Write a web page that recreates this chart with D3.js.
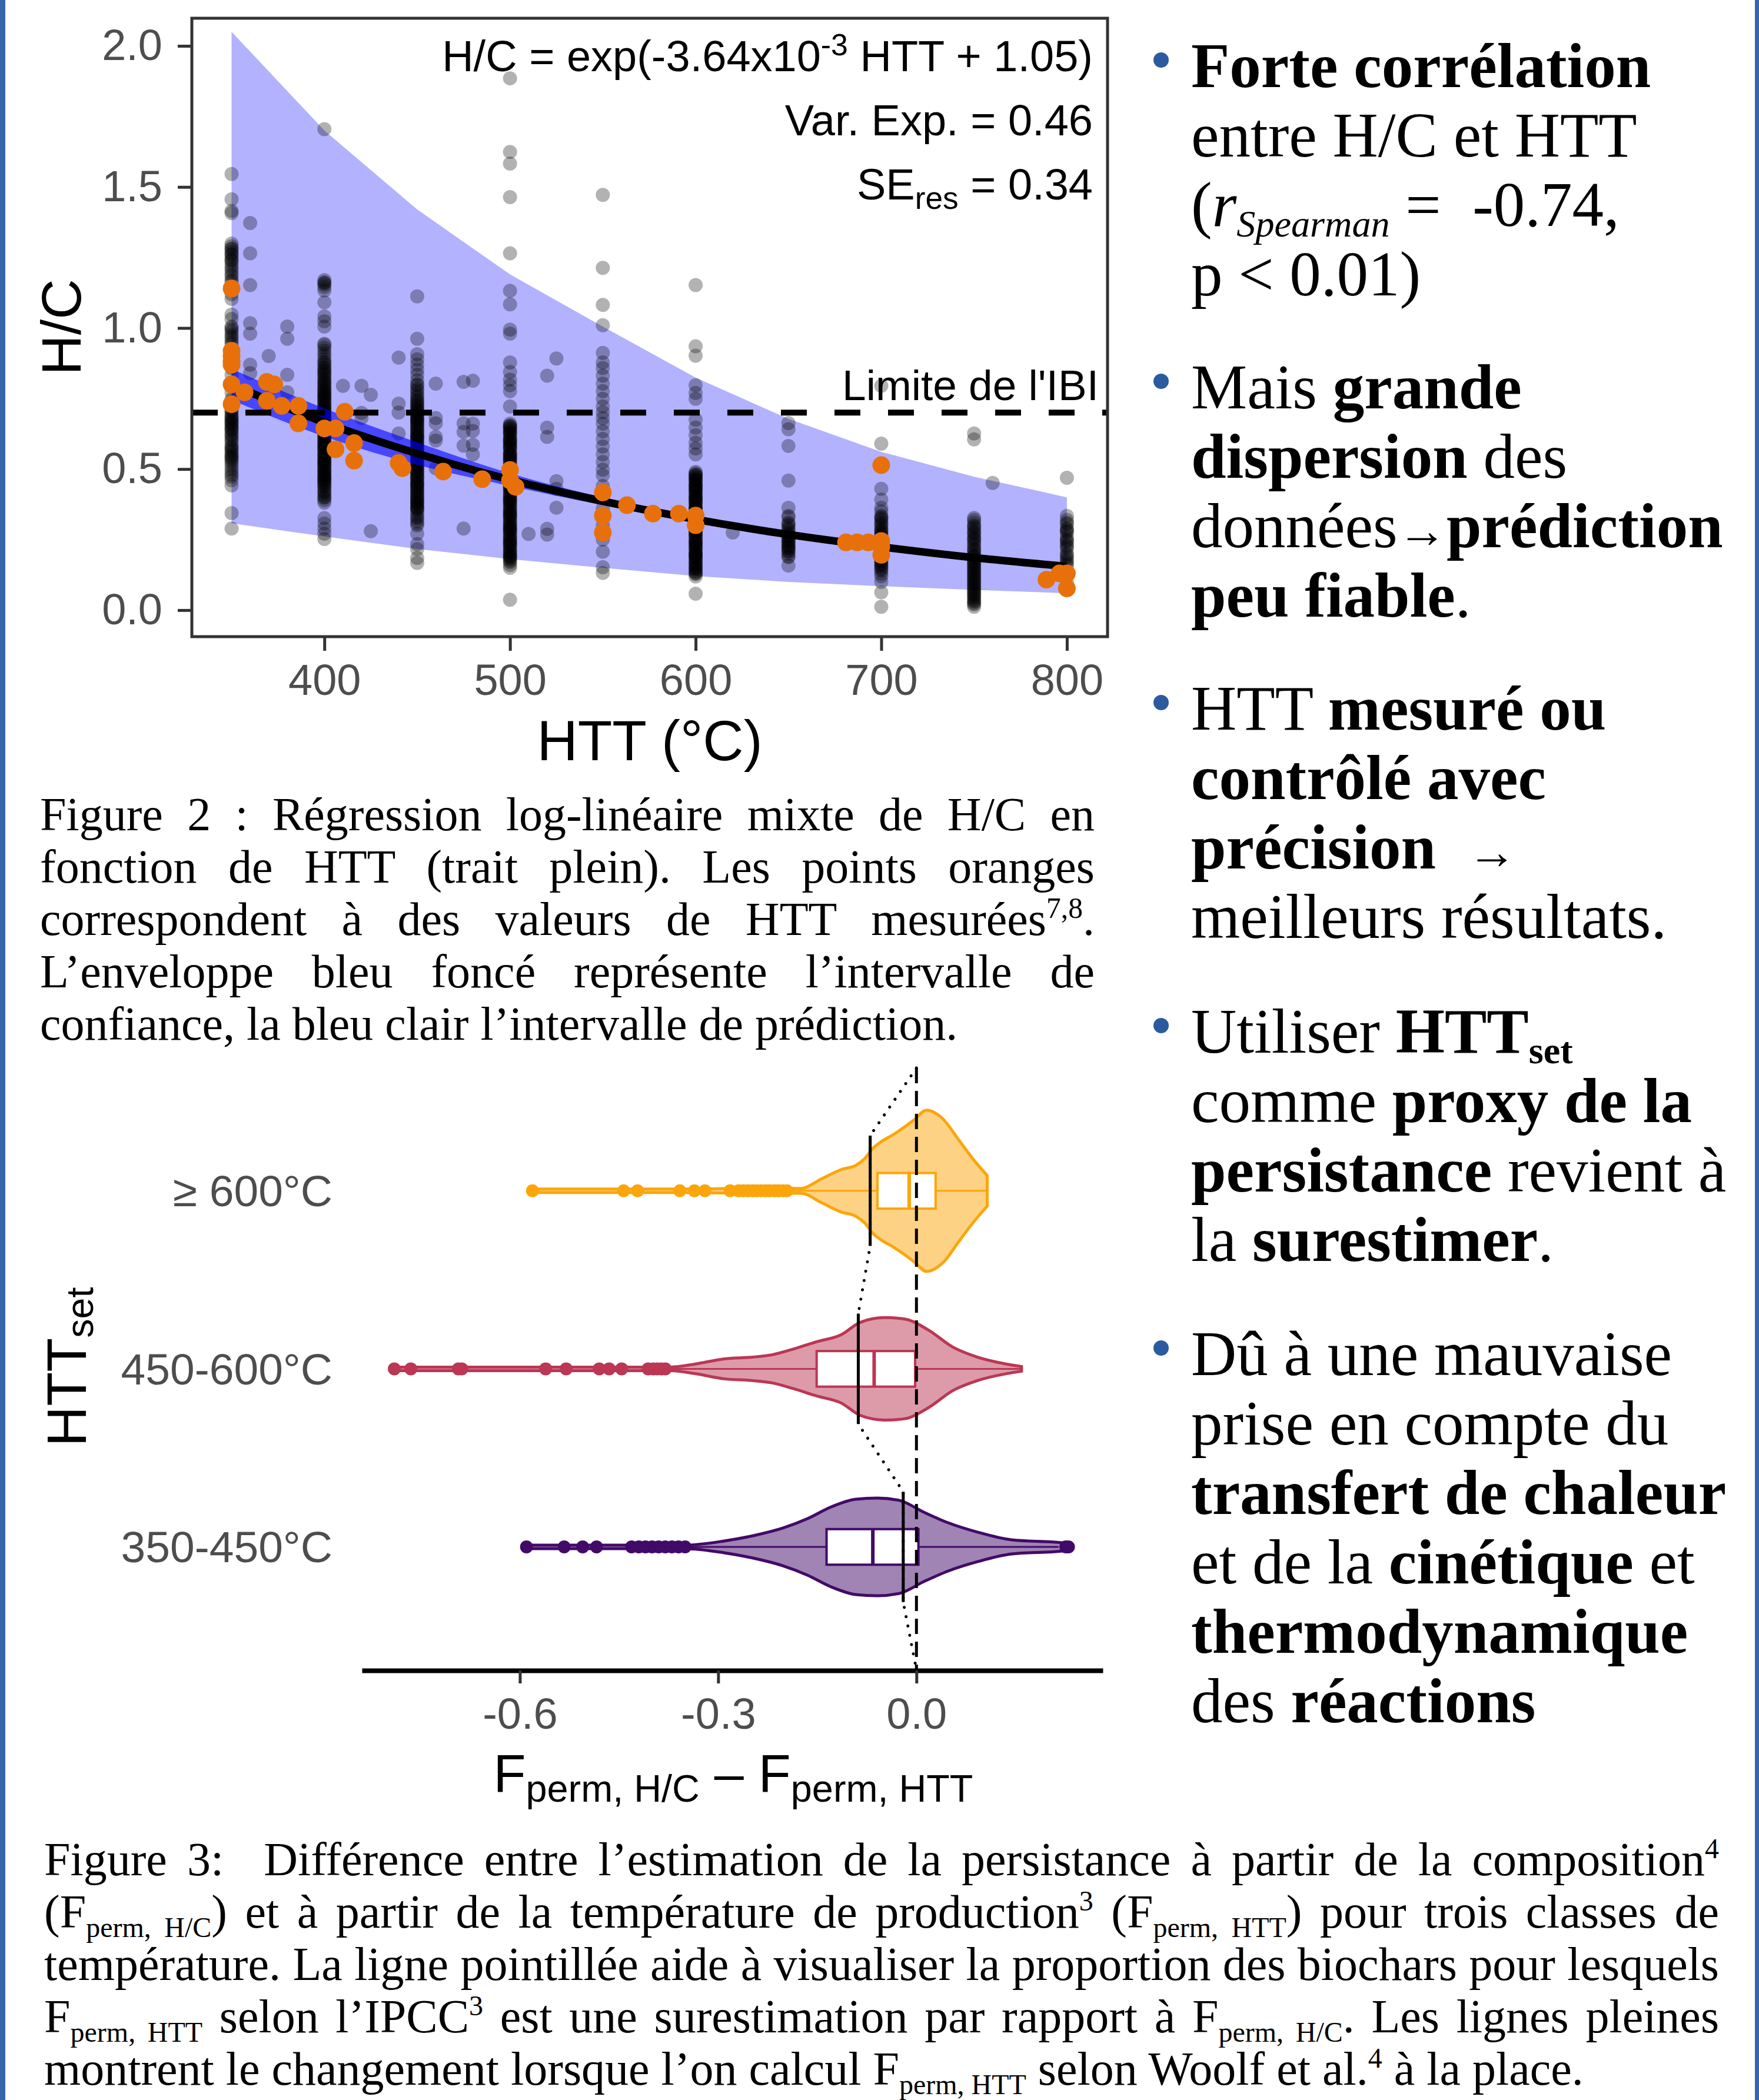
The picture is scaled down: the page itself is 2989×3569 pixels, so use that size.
<!DOCTYPE html>
<html>
<head>
<meta charset="utf-8">
<script src="https://cdn.jsdelivr.net/npm/d3@7"></script>
<style>
  body { margin: 0; background: #fff; }
</style>
</head>
<body>
<div id="chart"></div>
<script>
// ---------- Figure 2 data : H/C vs HTT ----------
var fitHTT = [350, 400, 450, 500, 550, 600, 650, 700, 750, 800];
var fitHC  = [0.80, 0.665, 0.555, 0.462, 0.386, 0.322, 0.268, 0.224, 0.186, 0.155];
var ciLow  = [0.745, 0.615, 0.515, 0.44, 0.372, 0.31, 0.26, 0.215, 0.178, 0.146];
var ciHigh = [0.855, 0.715, 0.595, 0.485, 0.40, 0.334, 0.277, 0.233, 0.195, 0.166];
var piLow  = [0.308, 0.261, 0.217, 0.181, 0.150, 0.121, 0.10, 0.085, 0.072, 0.06];
var piHigh = [2.05, 1.70, 1.42, 1.19, 1.005, 0.824, 0.678, 0.561, 0.473, 0.40];

var colHTT = [350, 360, 370, 380, 400, 410, 420, 425, 440, 450, 460, 475, 480, 500, 510, 520, 525, 550, 600, 620, 650, 700, 750, 760, 800];
var colHC = [
  [1.546, 1.456, 1.415, 1.407, 1.299, 1.29, 1.281, 1.27, 1.262, 1.25, 1.241, 1.23, 1.219, 1.201, 1.183, 1.164, 1.12, 1.103, 1.048, 1.032, 1.005, 0.993, 0.968, 0.96, 0.95, 0.944, 0.92, 0.90, 0.88, 0.858, 0.834, 0.80, 0.772, 0.748, 0.72, 0.71, 0.699, 0.69, 0.681, 0.675, 0.67, 0.662, 0.655, 0.65, 0.644, 0.635, 0.626, 0.615, 0.601, 0.59, 0.577, 0.565, 0.558, 0.546, 0.54, 0.528, 0.51, 0.49, 0.473, 0.442, 0.344, 0.289],
  [1.372, 1.265, 1.152, 1.017, 0.980, 0.870, 0.840],
  [0.901],
  [1.005, 0.962, 0.834, 0.772],
  [1.705, 1.170, 1.162, 1.16, 1.154, 1.145, 1.133, 1.091, 1.041, 1.024, 1.005, 0.944, 0.920, 0.901, 0.88, 0.877, 0.858, 0.850, 0.840, 0.83, 0.822, 0.812, 0.803, 0.795, 0.79, 0.785, 0.775, 0.767, 0.76, 0.758, 0.748, 0.740, 0.735, 0.730, 0.721, 0.715, 0.712, 0.702, 0.695, 0.693, 0.684, 0.68, 0.675, 0.666, 0.66, 0.657, 0.648, 0.645, 0.638, 0.629, 0.625, 0.620, 0.611, 0.605, 0.601, 0.592, 0.588, 0.583, 0.574, 0.57, 0.565, 0.555, 0.55, 0.546, 0.537, 0.532, 0.528, 0.519, 0.515, 0.510, 0.50, 0.495, 0.491, 0.482, 0.478, 0.473, 0.464, 0.46, 0.454, 0.445, 0.44, 0.436, 0.427, 0.42, 0.417, 0.408, 0.40, 0.399, 0.39, 0.381, 0.326, 0.307, 0.289, 0.271, 0.252],
  [0.795],
  [0.795, 0.699, 0.681],
  [0.763, 0.280],
  [0.895, 0.732, 0.700, 0.626],
  [1.112, 0.962, 0.907, 0.889, 0.870, 0.852, 0.834, 0.815, 0.797, 0.779, 0.760, 0.742, 0.735, 0.73, 0.724, 0.712, 0.705, 0.70, 0.695, 0.687, 0.68, 0.675, 0.669, 0.66, 0.655, 0.650, 0.64, 0.635, 0.632, 0.62, 0.614, 0.61, 0.605, 0.595, 0.59, 0.585, 0.577, 0.57, 0.565, 0.558, 0.55, 0.548, 0.540, 0.535, 0.53, 0.522, 0.515, 0.51, 0.503, 0.495, 0.49, 0.485, 0.475, 0.47, 0.466, 0.455, 0.45, 0.448, 0.44, 0.430, 0.425, 0.42, 0.411, 0.405, 0.40, 0.393, 0.385, 0.38, 0.375, 0.365, 0.36, 0.357, 0.326, 0.307, 0.271, 0.234, 0.216, 0.185, 0.167],
  [0.803, 0.681, 0.662, 0.614, 0.601, 0.503],
  [0.809, 0.662, 0.632, 0.583, 0.289],
  [0.813, 0.661, 0.635, 0.586, 0.552],
  [1.885, 1.624, 1.583, 1.464, 1.265, 1.132, 1.084, 0.994, 0.980, 0.878, 0.844, 0.817, 0.797, 0.776, 0.722, 0.661, 0.655, 0.652, 0.645, 0.636, 0.63, 0.628, 0.618, 0.61, 0.605, 0.602, 0.595, 0.586, 0.58, 0.578, 0.569, 0.56, 0.555, 0.552, 0.545, 0.537, 0.535, 0.53, 0.521, 0.512, 0.51, 0.503, 0.495, 0.488, 0.485, 0.48, 0.471, 0.462, 0.46, 0.453, 0.445, 0.438, 0.435, 0.43, 0.421, 0.412, 0.41, 0.403, 0.395, 0.388, 0.385, 0.38, 0.371, 0.362, 0.36, 0.353, 0.345, 0.338, 0.335, 0.33, 0.321, 0.312, 0.31, 0.303, 0.295, 0.287, 0.285, 0.28, 0.27, 0.262, 0.26, 0.253, 0.245, 0.237, 0.235, 0.23, 0.22, 0.212, 0.21, 0.203, 0.195, 0.19, 0.185, 0.18, 0.17, 0.16, 0.037],
  [0.270],
  [0.831, 0.647, 0.614, 0.288, 0.268],
  [0.892, 0.457, 0.430, 0.363],
  [1.472, 1.213, 1.082, 1.010, 0.912, 0.878, 0.858, 0.831, 0.803, 0.776, 0.749, 0.722, 0.701, 0.681, 0.661, 0.634, 0.607, 0.580, 0.552, 0.525, 0.498, 0.478, 0.44, 0.40, 0.36, 0.30, 0.25, 0.207, 0.152, 0.132],
  [1.152, 0.935, 0.902, 0.797, 0.770, 0.749, 0.675, 0.647, 0.620, 0.593, 0.573, 0.552, 0.485, 0.48, 0.478, 0.47, 0.462, 0.46, 0.455, 0.447, 0.44, 0.44, 0.431, 0.423, 0.42, 0.415, 0.407, 0.40, 0.398, 0.39, 0.382, 0.38, 0.373, 0.365, 0.36, 0.357, 0.348, 0.34, 0.34, 0.332, 0.323, 0.32, 0.315, 0.306, 0.30, 0.298, 0.29, 0.281, 0.28, 0.273, 0.265, 0.26, 0.256, 0.248, 0.24, 0.24, 0.231, 0.222, 0.22, 0.214, 0.205, 0.20, 0.197, 0.188, 0.185, 0.18, 0.172, 0.165, 0.163, 0.155, 0.15, 0.146, 0.137, 0.135, 0.128, 0.119, 0.058],
  [0.275],
  [0.663, 0.641, 0.582, 0.459, 0.363, 0.334, 0.305, 0.30, 0.29, 0.275, 0.27, 0.264, 0.254, 0.25, 0.242, 0.235, 0.231, 0.22, 0.22, 0.209, 0.20, 0.188, 0.158],
  [0.795, 0.590, 0.430, 0.392, 0.363, 0.334, 0.33, 0.32, 0.31, 0.305, 0.29, 0.28, 0.275, 0.265, 0.26, 0.25, 0.245, 0.235, 0.23, 0.22, 0.217, 0.205, 0.2, 0.19, 0.188, 0.175, 0.172, 0.16, 0.158, 0.145, 0.14, 0.129, 0.12, 0.100, 0.063, 0.012],
  [0.626, 0.605, 0.327, 0.310, 0.30, 0.290, 0.28, 0.275, 0.261, 0.25, 0.245, 0.231, 0.22, 0.215, 0.202, 0.195, 0.188, 0.18, 0.173, 0.165, 0.16, 0.15, 0.144, 0.135, 0.13, 0.12, 0.115, 0.105, 0.10, 0.09, 0.085, 0.075, 0.07, 0.06, 0.056, 0.045, 0.034, 0.03, 0.02, 0.012],
  [0.451],
  [0.469, 0.334, 0.32, 0.305, 0.290, 0.28, 0.275, 0.26, 0.246, 0.24, 0.23, 0.217, 0.2, 0.188, 0.172, 0.165, 0.158, 0.13, 0.10]
];
// further overlapping observations in the crowded columns
var denseHTT = [350, 400, 450, 500, 600, 650, 700, 750, 800];
var denseHC = [
  [0.74, 0.73, 0.705, 0.685, 0.665, 0.64, 0.62, 0.605, 0.58, 0.57, 0.55, 0.535, 0.52, 0.50, 0.48, 0.46, 1.28, 1.26, 1.24, 1.21, 1.19, 1.17, 1.00, 0.985, 0.975],
  [0.94, 0.93, 0.91, 0.89, 0.87, 0.86, 0.845, 0.835, 0.815, 0.805, 0.78, 0.77, 0.755, 0.745, 0.725, 0.71, 0.70, 0.685, 0.67, 0.655, 0.64, 0.63, 0.615, 0.60, 0.585, 0.575, 0.56, 0.545, 0.53, 0.52, 0.505, 0.49, 0.475, 0.465, 0.45],
  [0.80, 0.785, 0.77, 0.755, 0.745, 0.72, 0.71, 0.69, 0.675, 0.665, 0.645, 0.625, 0.615, 0.60, 0.58, 0.56, 0.545, 0.525, 0.51, 0.495, 0.48, 0.465, 0.445, 0.435, 0.415, 0.395, 0.38, 0.365, 0.35, 0.34, 0.33, 0.315, 0.30],
  [0.65, 0.625, 0.60, 0.575, 0.55, 0.525, 0.50, 0.475, 0.45, 0.425, 0.40, 0.375, 0.35, 0.325, 0.30, 0.275, 0.25, 0.225, 0.20, 0.175, 0.15, 0.64, 0.59, 0.54, 0.49, 0.44, 0.39, 0.34, 0.29, 0.24, 0.19],
  [0.49, 0.465, 0.445, 0.425, 0.405, 0.385, 0.365, 0.345, 0.325, 0.305, 0.285, 0.265, 0.245, 0.225, 0.205, 0.19, 0.17, 0.15, 0.13, 0.475, 0.435, 0.395, 0.355, 0.315, 0.275, 0.235, 0.195],
  [0.33, 0.31, 0.285, 0.26, 0.245, 0.225, 0.21, 0.19],
  [0.35, 0.325, 0.30, 0.285, 0.27, 0.255, 0.24, 0.225, 0.21, 0.195, 0.18, 0.165, 0.15],
  [0.32, 0.295, 0.27, 0.255, 0.235, 0.21, 0.19, 0.17, 0.155, 0.14, 0.125, 0.11, 0.095, 0.08, 0.065, 0.05, 0.04, 0.025],
  [0.31, 0.285, 0.25, 0.225, 0.195, 0.18]
];

var orangeHTT = [350, 350, 350, 350, 350, 350, 350, 357, 369, 373, 369, 377, 386, 386, 400, 406, 411, 406, 416, 416, 440, 442, 464, 485, 500, 500, 503, 550, 550, 550, 563, 577, 591, 600, 600, 681, 687, 693, 700, 700, 700, 700, 789, 796, 800, 800];
var orangeHC  = [1.140, 0.919, 0.901, 0.882, 0.870, 0.800, 0.730, 0.772, 0.809, 0.800, 0.742, 0.724, 0.724, 0.662, 0.644, 0.644, 0.703, 0.570, 0.592, 0.530, 0.522, 0.503, 0.491, 0.464, 0.497, 0.460, 0.437, 0.417, 0.335, 0.275, 0.372, 0.342, 0.342, 0.335, 0.301, 0.240, 0.240, 0.240, 0.245, 0.225, 0.196, 0.514, 0.108, 0.130, 0.130, 0.077];

var ibiLimit = 0.7;
var hcTicks = [0, 0.5, 1, 1.5, 2];
var httTicks = [400, 500, 600, 700, 800];

// ---------- Figure 3 data : violins ----------
var classes = ["350-450°C", "450-600°C", "≥ 600°C"];
var classColors = ["#420a68", "#bb3754", "#fca50a"];
var violinVals = [
  [-0.59, -0.45, -0.35, -0.291, -0.247, -0.202, -0.165, -0.129, -0.092, -0.059, -0.026, 0.011, 0.048, 0.093, 0.144, 0.211, 0.230],
  [-0.79, -0.6, -0.45, -0.372, -0.336, -0.291, -0.247, -0.218, -0.188, -0.151, -0.114, -0.085, -0.048, -0.019, 0.018, 0.055, 0.092, 0.137, 0.159],
  [-0.581, -0.45, -0.35, -0.27, -0.22, -0.19, -0.174, -0.144, -0.114, -0.092, -0.078, -0.066, -0.055, -0.033, -0.003, 0.015, 0.041, 0.063, 0.085, 0.107]
];
var violinDens = [
  [0.022, 0.022, 0.022, 0.073, 0.139, 0.234, 0.350, 0.496, 0.591, 0.606, 0.577, 0.431, 0.299, 0.182, 0.088, 0.058, 0.044],
  [0.022, 0.022, 0.022, 0.022, 0.058, 0.124, 0.146, 0.175, 0.241, 0.336, 0.423, 0.577, 0.635, 0.620, 0.482, 0.270, 0.146, 0.058, 0.029],
  [0.022, 0.022, 0.022, 0.030, 0.036, 0.030, 0.030, 0.146, 0.263, 0.314, 0.401, 0.526, 0.599, 0.708, 0.883, 1.0, 0.883, 0.642, 0.401, 0.190]
];
var boxQ1  = [-0.136, -0.151, -0.059];
var boxMed = [-0.066, -0.064, -0.011];
var boxQ3  = [0.003, -0.002, 0.029];
var whiskLo = [-0.35, -0.372, -0.19];
var whiskHi = [0.215, 0.159, 0.107];
var outliers = [
  [-0.590, -0.533, -0.505, -0.484, -0.431, -0.42, -0.41, -0.40, -0.39, -0.38, -0.37, -0.36, -0.35, 0.226, 0.230],
  [-0.790, -0.765, -0.693, -0.688, -0.561, -0.530, -0.480, -0.465, -0.446, -0.406, -0.398, -0.392, -0.386, -0.380],
  [-0.581, -0.443, -0.422, -0.358, -0.336, -0.320, -0.282, -0.269, -0.262, -0.255, -0.248, -0.242, -0.235, -0.228, -0.222, -0.215, -0.209, -0.202, -0.196]
];
var woolfMean = [-0.020, -0.088, -0.070];
var diffTicks = [-0.6, -0.3, 0.0];

// ---------- page ----------
var W = 2989, H = 3569;
var serif = '"Liberation Serif", "Times New Roman", serif';
var sans = '"Liberation Sans", Arial, sans-serif';

var svg = d3.select("#chart").append("svg")
    .attr("width", W)
    .attr("height", H)
    .attr("font-family", sans)
    .style("background", "#fff");

svg.append("rect").attr("x", 0).attr("y", 0).attr("width", 9).attr("height", H).attr("fill", "#3667ab");
svg.append("rect").attr("x", 2982).attr("y", 0).attr("width", 7).attr("height", H).attr("fill", "#3667ab");

// rich text: segs = [[text, style]], style in "", b, i, sub, sup, isub, bsub, arrow
function rich(g, x, y, segs, o) {
    var t = g.append("text")
        .attr("x", x).attr("y", y)
        .attr("font-family", o.font)
        .attr("font-size", o.size)
        .attr("fill", o.fill || "#000")
        .style("white-space", "pre");
    if (o.anchor) t.attr("text-anchor", o.anchor);
    var shift = 0;
    segs.forEach(function(s) {
        var st = s[1] || "";
        var ts = t.append("tspan").text(s[0]);
        var want = 0;
        if (st.indexOf("sub") >= 0) want = o.size * (o.subShift || 0.2);
        if (st === "sup") want = -o.size * 0.36;
        if (want !== shift) { ts.attr("dy", want - shift); shift = want; }
        if (st.indexOf("sub") >= 0 || st === "sup") ts.attr("font-size", o.size * (o.subK || 0.62));
        if (st === "arrow") ts.attr("font-size", o.size * 0.78);
        if (st.indexOf("b") === 0) ts.attr("font-weight", "bold");
        if (st.indexOf("i") === 0) ts.attr("font-style", "italic");
    });
    if (o.width) {
        var full = segs.map(function(s) { return s[0]; }).join("");
        var n = (full.match(/ /g) || []).length;
        var w = t.node().getComputedTextLength();
        if (n > 0) {
            t.style("word-spacing", ((o.width - w) / n) + "px");
            var w2 = t.node().getComputedTextLength();
            if (Math.abs(w2 - o.width) > 4) {
                t.style("word-spacing", null)
                    .attr("textLength", o.width)
                    .attr("lengthAdjust", "spacing");
            }
        }
    }
    return t;
}

// ---------- Figure 2 ----------
var x = d3.scaleLinear().domain([328.6, 821.9]).range([326, 1882]);
var y = d3.scaleLinear().domain([-0.094, 2.098]).range([1082, 31]);
var idx = d3.range(fitHTT.length);

var fig2 = svg.append("g");
fig2.append("defs").append("clipPath").attr("id", "panel")
    .append("rect").attr("x", 326).attr("y", 31).attr("width", 1556).attr("height", 1051);
var plot = fig2.append("g").attr("clip-path", "url(#panel)");

plot.append("path")
    .attr("d", d3.area().x(i => x(fitHTT[i])).y0(i => y(piLow[i])).y1(i => y(piHigh[i]))(idx))
    .attr("fill", "#0000ff").attr("fill-opacity", 0.3);

var grayPts = [];
colHTT.forEach(function(h, i) {
    colHC[i].forEach(function(v) { grayPts.push({ htt: h, hc: v }); });
});
denseHTT.forEach(function(h, i) {
    denseHC[i].forEach(function(v) { grayPts.push({ htt: h, hc: v }); });
});
plot.selectAll("circle.gray")
    .data(grayPts)
    .enter()
    .append("circle")
    .attr("class", "gray")
    .attr("cx", d => x(d.htt))
    .attr("cy", d => y(d.hc))
    .attr("r", 12)
    .attr("fill", "#000")
    .attr("fill-opacity", 0.3);

plot.append("path")
    .attr("d", d3.area().x(i => x(fitHTT[i])).y0(i => y(ciLow[i])).y1(i => y(ciHigh[i])).curve(d3.curveMonotoneX)(idx))
    .attr("fill", "#0000ff").attr("fill-opacity", 0.6);

plot.append("path")
    .attr("d", d3.line().x(i => x(fitHTT[i])).y(i => y(fitHC[i])).curve(d3.curveMonotoneX)(idx))
    .attr("fill", "none").attr("stroke", "#000").attr("stroke-width", 13);

plot.append("line")
    .attr("x1", 326).attr("x2", 1882)
    .attr("y1", y(ibiLimit)).attr("y2", y(ibiLimit))
    .attr("stroke", "#000").attr("stroke-width", 10)
    .attr("stroke-dasharray", "44,47");

plot.selectAll("circle.orange")
    .data(d3.range(orangeHTT.length))
    .enter()
    .append("circle")
    .attr("class", "orange")
    .attr("cx", i => x(orangeHTT[i]))
    .attr("cy", i => y(orangeHC[i]))
    .attr("r", 15)
    .attr("fill", "#e8700a");

fig2.append("rect")
    .attr("x", 326).attr("y", 31).attr("width", 1556).attr("height", 1051)
    .attr("fill", "none").attr("stroke", "#333").attr("stroke-width", 5);

var yAxis = fig2.append("g")
    .attr("transform", "translate(324,0)")
    .call(d3.axisLeft(y).tickValues(hcTicks).tickFormat(d => d.toFixed(1)).tickSize(22).tickPadding(26));
var xAxis = fig2.append("g")
    .attr("transform", "translate(0,1084)")
    .call(d3.axisBottom(x).tickValues(httTicks).tickSize(22).tickPadding(22));
[yAxis, xAxis].forEach(function(a) {
    a.select(".domain").remove();
    a.selectAll("line").attr("stroke", "#333").attr("stroke-width", 5);
    a.selectAll("text").attr("fill", "#4d4d4d").attr("font-size", 74).attr("font-family", sans);
});

fig2.append("text")
    .attr("x", 1104).attr("y", 1292)
    .attr("text-anchor", "middle")
    .attr("font-size", 96)
    .text("HTT (°C)");
fig2.append("text")
    .attr("transform", "translate(137,556) rotate(-90)")
    .attr("text-anchor", "middle")
    .attr("font-size", 95)
    .text("H/C");

rich(fig2, 1857, 121, [["H/C = exp(-3.64x10"], ["-3", "sup"], [" HTT + 1.05)"]], { font: sans, size: 74, anchor: "end", subK: 0.7 });
rich(fig2, 1857, 230, [["Var. Exp. = 0.46"]], { font: sans, size: 74, anchor: "end" });
rich(fig2, 1857, 339, [["SE"], ["res", "sub"], [" = 0.34"]], { font: sans, size: 74, anchor: "end", subK: 0.72, subShift: 0.22 });
fig2.append("text")
    .attr("x", 1867).attr("y", 680)
    .attr("text-anchor", "end")
    .attr("font-size", 73)
    .text("Limite de l'IBI");

// caption 2
var cap2 = [
    [["Figure 2 : Régression log-linéaire mixte de H/C en"]],
    [["fonction de HTT (trait plein). Les points oranges"]],
    [["correspondent à des valeurs de HTT mesurées"], ["7,8", "sup"], ["."]],
    [["L’enveloppe bleu foncé représente l’intervalle de"]],
    [["confiance, la bleu clair l’intervalle de prédiction."]]
];
cap2.forEach(function(segs, i) {
    rich(svg, 68, 1411 + i * 89, segs, { font: serif, size: 80, width: i < cap2.length - 1 ? 1792 : null });
});

// ---------- Figure 3 ----------
var xv = d3.scaleLinear().domain([-0.839, 0.282]).range([615, 1874]);
var yv = d3.scaleLinear().domain([0.306, 3.69]).range([2839, 1815]);
var cat = d3.scalePoint().domain(classes).range([yv(1), yv(3)]);
var halfW = d3.scaleLinear().domain([0, 1]).range([0, yv(0) - yv(0.453)]);
var boxH = yv(0) - yv(0.1);

var fig3 = svg.append("g");

classes.forEach(function(c, k) {
    var cy = cat(c);
    var col = classColors[k];
    var ii = d3.range(violinVals[k].length);
    var g = fig3.append("g");
    g.append("path")
        .attr("d", d3.area()
            .x(i => xv(violinVals[k][i]))
            .y0(i => cy + halfW(violinDens[k][i]))
            .y1(i => cy - halfW(violinDens[k][i]))
            .curve(d3.curveMonotoneX)(ii))
        .attr("fill", col).attr("fill-opacity", 0.5)
        .attr("stroke", col).attr("stroke-width", 5);
    g.append("line")
        .attr("x1", xv(whiskLo[k])).attr("x2", xv(whiskHi[k]))
        .attr("y1", cy).attr("y2", cy)
        .attr("stroke", col).attr("stroke-width", 3);
    g.append("rect")
        .attr("x", xv(boxQ1[k])).attr("width", xv(boxQ3[k]) - xv(boxQ1[k]))
        .attr("y", cy - boxH).attr("height", 2 * boxH)
        .attr("fill", "#fff").attr("stroke", col).attr("stroke-width", 4);
    g.append("line")
        .attr("x1", xv(boxMed[k])).attr("x2", xv(boxMed[k]))
        .attr("y1", cy - boxH).attr("y2", cy + boxH)
        .attr("stroke", col).attr("stroke-width", 6);
    g.selectAll("circle")
        .data(outliers[k])
        .enter()
        .append("circle")
        .attr("cx", d => xv(d))
        .attr("cy", cy)
        .attr("r", 11)
        .attr("fill", col);
});

fig3.append("line")
    .attr("x1", xv(0)).attr("x2", xv(0))
    .attr("y1", yv(3.69)).attr("y2", yv(0.306))
    .attr("stroke", "#000").attr("stroke-width", 5)
    .attr("stroke-dasharray", "26,13");

var dotted = [[0, 3.69]];
[2, 1, 0].forEach(function(k) {
    dotted.push([woolfMean[k], k + 1 + 0.31]);
    dotted.push([woolfMean[k], k + 1 - 0.31]);
});
dotted.push([0, 0.31]);
fig3.append("path")
    .attr("d", d3.line().x(d => xv(d[0])).y(d => yv(d[1]))(dotted))
    .attr("fill", "none").attr("stroke", "#000").attr("stroke-width", 5)
    .attr("stroke-linecap", "round").attr("stroke-dasharray", "0.1,16");

woolfMean.forEach(function(m, k) {
    fig3.append("line")
        .attr("x1", xv(m)).attr("x2", xv(m))
        .attr("y1", yv(k + 1 + 0.31)).attr("y2", yv(k + 1 - 0.31))
        .attr("stroke", "#000").attr("stroke-width", 5);
});

var vAxis = fig3.append("g")
    .attr("transform", "translate(0," + yv(0.306) + ")")
    .call(d3.axisBottom(xv).tickValues(diffTicks).tickFormat(d => d.toFixed(1)).tickSize(22).tickSizeOuter(0).tickPadding(24));
vAxis.select(".domain").attr("stroke", "#000").attr("stroke-width", 8);
vAxis.selectAll(".tick line").attr("stroke", "#333").attr("stroke-width", 5);
vAxis.selectAll("text").attr("fill", "#4d4d4d").attr("font-size", 74).attr("font-family", sans);

fig3.selectAll("text.cat")
    .data(classes)
    .enter()
    .append("text")
    .attr("class", "cat")
    .attr("x", 565)
    .attr("y", d => cat(d))
    .attr("dy", "0.35em")
    .attr("text-anchor", "end")
    .attr("font-size", 75)
    .attr("fill", "#4d4d4d")
    .text(d => d);

var ttl = fig3.append("g").attr("transform", "translate(146,2323) rotate(-90)");
rich(ttl, 0, 0, [["HTT"], ["set", "sub"]], { font: sans, size: 95, anchor: "middle", subK: 0.68, subShift: 0.13 });

rich(fig3, 1246, 3045, [["F"], ["perm, H/C", "sub"], [" – F"], ["perm, HTT", "sub"]], { font: sans, size: 90, anchor: "middle", subK: 0.72, subShift: 0.19 });

// caption 3
var cap3 = [
    [["Figure 3:  Différence entre l’estimation de la persistance à partir de la composition"], ["4", "sup"]],
    [["(F"], ["perm, H/C", "sub"], [") et à partir de la température de production"], ["3", "sup"], [" (F"], ["perm, HTT", "sub"], [") pour trois classes de"]],
    [["température. La ligne pointillée aide à visualiser la proportion des biochars pour lesquels"]],
    [["F"], ["perm, HTT", "sub"], [" selon l’IPCC"], ["3", "sup"], [" est une surestimation par rapport à F"], ["perm, H/C", "sub"], [". Les lignes pleines"]],
    [["montrent le changement lorsque l’on calcul F"], ["perm, HTT", "sub"], [" selon Woolf et al."], ["4", "sup"], [" à la place."]]
];
cap3.forEach(function(segs, i) {
    rich(svg, 75, 3187 + i * 89, segs, { font: serif, size: 80, width: i < cap3.length - 1 ? 2846 : null, subK: 0.6, subShift: 0.2 });
});

// ---------- bullets ----------
var bullets = [
    [
        [["Forte corrélation", "b"]],
        [["entre H/C et HTT"]],
        [["("], ["r", "i"], ["Spearman", "isub"], [" =  -0.74,"]],
        [["p < 0.01)"]]
    ],
    [
        [["Mais "], ["grande", "b"]],
        [["dispersion", "b"], [" des"]],
        [["données"], ["→", "arrow"], ["prédiction", "b"]],
        [["peu fiable", "b"], ["."]]
    ],
    [
        [["HTT "], ["mesuré ou", "b"]],
        [["contrôlé avec", "b"]],
        [["précision", "b"], ["  "], ["→", "arrow"]],
        [["meilleurs résultats."]]
    ],
    [
        [["Utiliser "], ["HTT", "b"], ["set", "bsub"]],
        [["comme "], ["proxy de la", "b"]],
        [["persistance", "b"], [" revient à"]],
        [["la "], ["surestimer", "b"], ["."]]
    ],
    [
        [["Dû à une mauvaise"]],
        [["prise en compte du"]],
        [["transfert de chaleur", "b"]],
        [["et de la "], ["cinétique", "b"], [" et"]],
        [["thermodynamique", "b"]],
        [["des "], ["réactions", "b"]]
    ]
];
var bulletTop = [148, 694, 1240, 1789, 2337];
var side = svg.append("g");
bullets.forEach(function(lines, b) {
    side.append("circle")
        .attr("cx", 1973).attr("cy", bulletTop[b] - 46)
        .attr("r", 13).attr("fill", "#2c5aa0");
    lines.forEach(function(segs, i) {
        rich(side, 2024, bulletTop[b] + i * 118, segs, { font: serif, size: 107, subK: 0.6, subShift: 0.17 });
    });
});
</script>
</body>
</html>
